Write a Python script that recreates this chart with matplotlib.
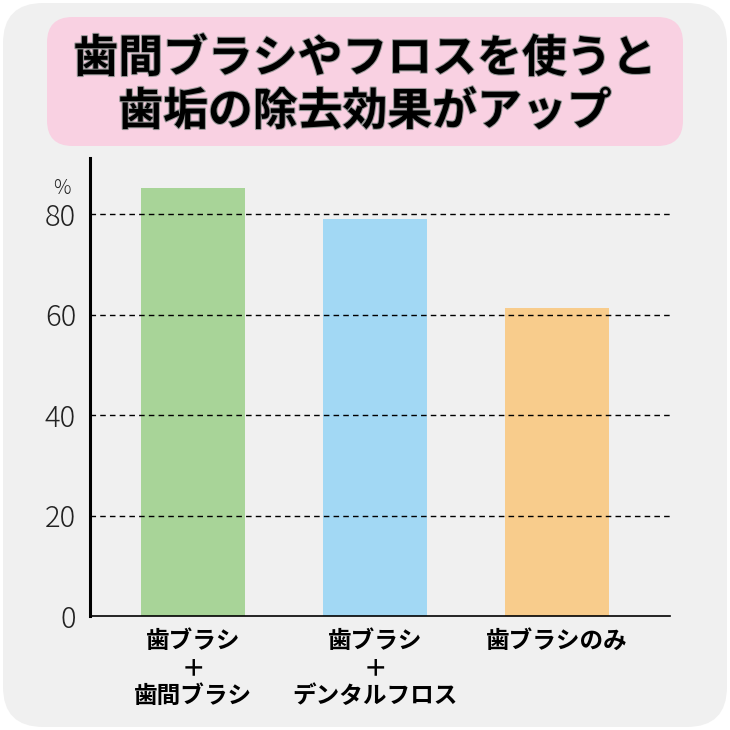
import matplotlib
matplotlib.use("Agg")
import matplotlib.pyplot as plt
from matplotlib.patches import FancyBboxPatch
import matplotlib.patheffects as pe

plt.rcParams['font.family'] = ['Noto Sans CJK JP', 'DejaVu Sans']

title_lines = ["歯間ブラシやフロスを使うと", "歯垢の除去効果がアップ"]
categories = ["歯ブラシ\n＋\n歯間ブラシ", "歯ブラシ\n＋\nデンタルフロス", "歯ブラシのみ"]
values = [85.3, 79.1, 61.4]
colors = ["#a8d498", "#a2d8f4", "#f8cc8c"]
yticks = [0, 20, 40, 60, 80]
unit = "%"

W = H = 730
fig = plt.figure(figsize=(7.3, 7.3), dpi=100)
fig.patch.set_facecolor("white")

def fx(px): return px / W
def fy(py): return 1 - py / H

bg = FancyBboxPatch((fx(3), fy(727)), fx(724), 724 / H,
                    boxstyle="round,pad=0,rounding_size=0.055",
                    transform=fig.transFigure, facecolor="#f0f0f0", edgecolor="none", zorder=0)
fig.patches.append(bg)
pink = FancyBboxPatch((fx(47), fy(146)), fx(636), 129 / H,
                      boxstyle="round,pad=0,rounding_size=0.035",
                      transform=fig.transFigure, facecolor="#f9d1e2", edgecolor="none", zorder=0.5)
fig.patches.append(pink)

for i, (line, py) in enumerate(zip(title_lines, [59, 112])):
    fig.text(0.5 * (fx(47) + fx(683)), fy(py), line, ha="center", va="center",
             fontsize=32.3, fontweight="bold", color="black", zorder=3,
             path_effects=[pe.withStroke(linewidth=1.5, foreground="#999999")])

ax = fig.add_axes([fx(90), fy(616), fx(670) - fx(90), (616 - 158) / H])
ax.set_zorder(2)
ax.set_facecolor("none")
x = list(range(len(categories)))
ax.bar(x, values, width=0.575, color=colors, zorder=2)
ax.set_xlim(-0.566, 2.62)
ax.set_ylim(0, 91.2)
for t in yticks[1:]:
    ax.axhline(t, color="black", linestyle=(0, (4, 3)), linewidth=1, zorder=3)
ax.set_yticks(yticks)
ax.set_yticklabels([str(t) for t in yticks], fontsize=21, fontweight="light", color="#222222")
ax.tick_params(axis="y", length=0, pad=10)
ax.set_xticks(x)
ax.set_xticklabels(categories, fontsize=17, fontweight="bold", linespacing=1.2, va="top")
ax.tick_params(axis="x", length=0, pad=9)
for s in ["top", "right"]:
    ax.spines[s].set_visible(False)
ax.spines["left"].set_linewidth(2.2)
ax.spines["bottom"].set_linewidth(1.2)
ax.spines["left"].set_zorder(4)
ax.text(-0.034, 0.934, unit, transform=ax.transAxes, fontsize=14, fontweight="light",
        ha="right", va="center", color="#222222")

fig.savefig("out.png", dpi=100)
